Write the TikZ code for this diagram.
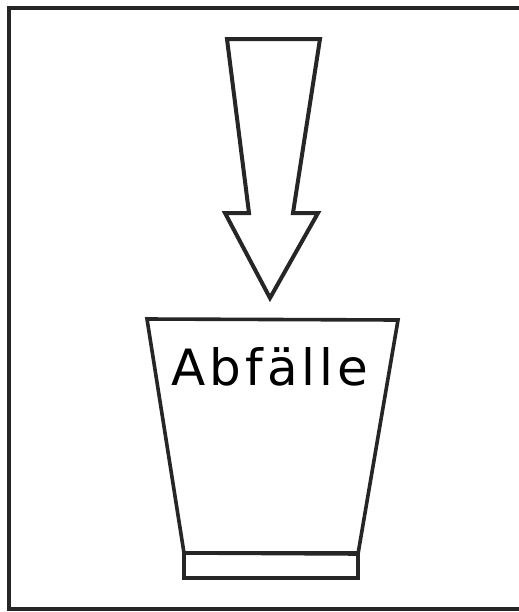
\documentclass[tikz,border=0pt]{standalone}
\usepackage{fontspec}
\newfontfamily\labelfont[LetterSpace=8]{DejaVu Sans}
\begin{document}
\begin{tikzpicture}[x=0.5pt,y=-0.5pt,
  outline/.style={draw=black!85,line width=2pt,line join=miter},
  frameline/.style={draw=black!85,line width=1.6pt}]
\useasboundingbox (0,0) rectangle (519,612);
% frame (right side open)
\coordinate (ftr) at (519,8);
\coordinate (ftl) at (9,8);
\coordinate (fbl) at (9,609);
\coordinate (fbr) at (519,609);
\draw[frameline] (ftr) -- (ftl) -- (fbl) -- (fbr);
% arrow
\draw[outline] (227,39) -- (320,39) -- (293,213) -- (318,213) -- (270,298) -- (225,213) -- (249,213) -- cycle;
% bucket
\draw[outline,line width=1.8pt] (147,319) -- (398,320) -- (358,554) -- (184,553) -- cycle;
\draw[outline,line width=1.8pt] (184,553) rectangle (358,578);
\node[anchor=base,inner sep=0pt,font=\labelfont\fontsize{25}{25}\selectfont] (lbl) at (270,385) {Abfälle};
\end{tikzpicture}
\end{document}
